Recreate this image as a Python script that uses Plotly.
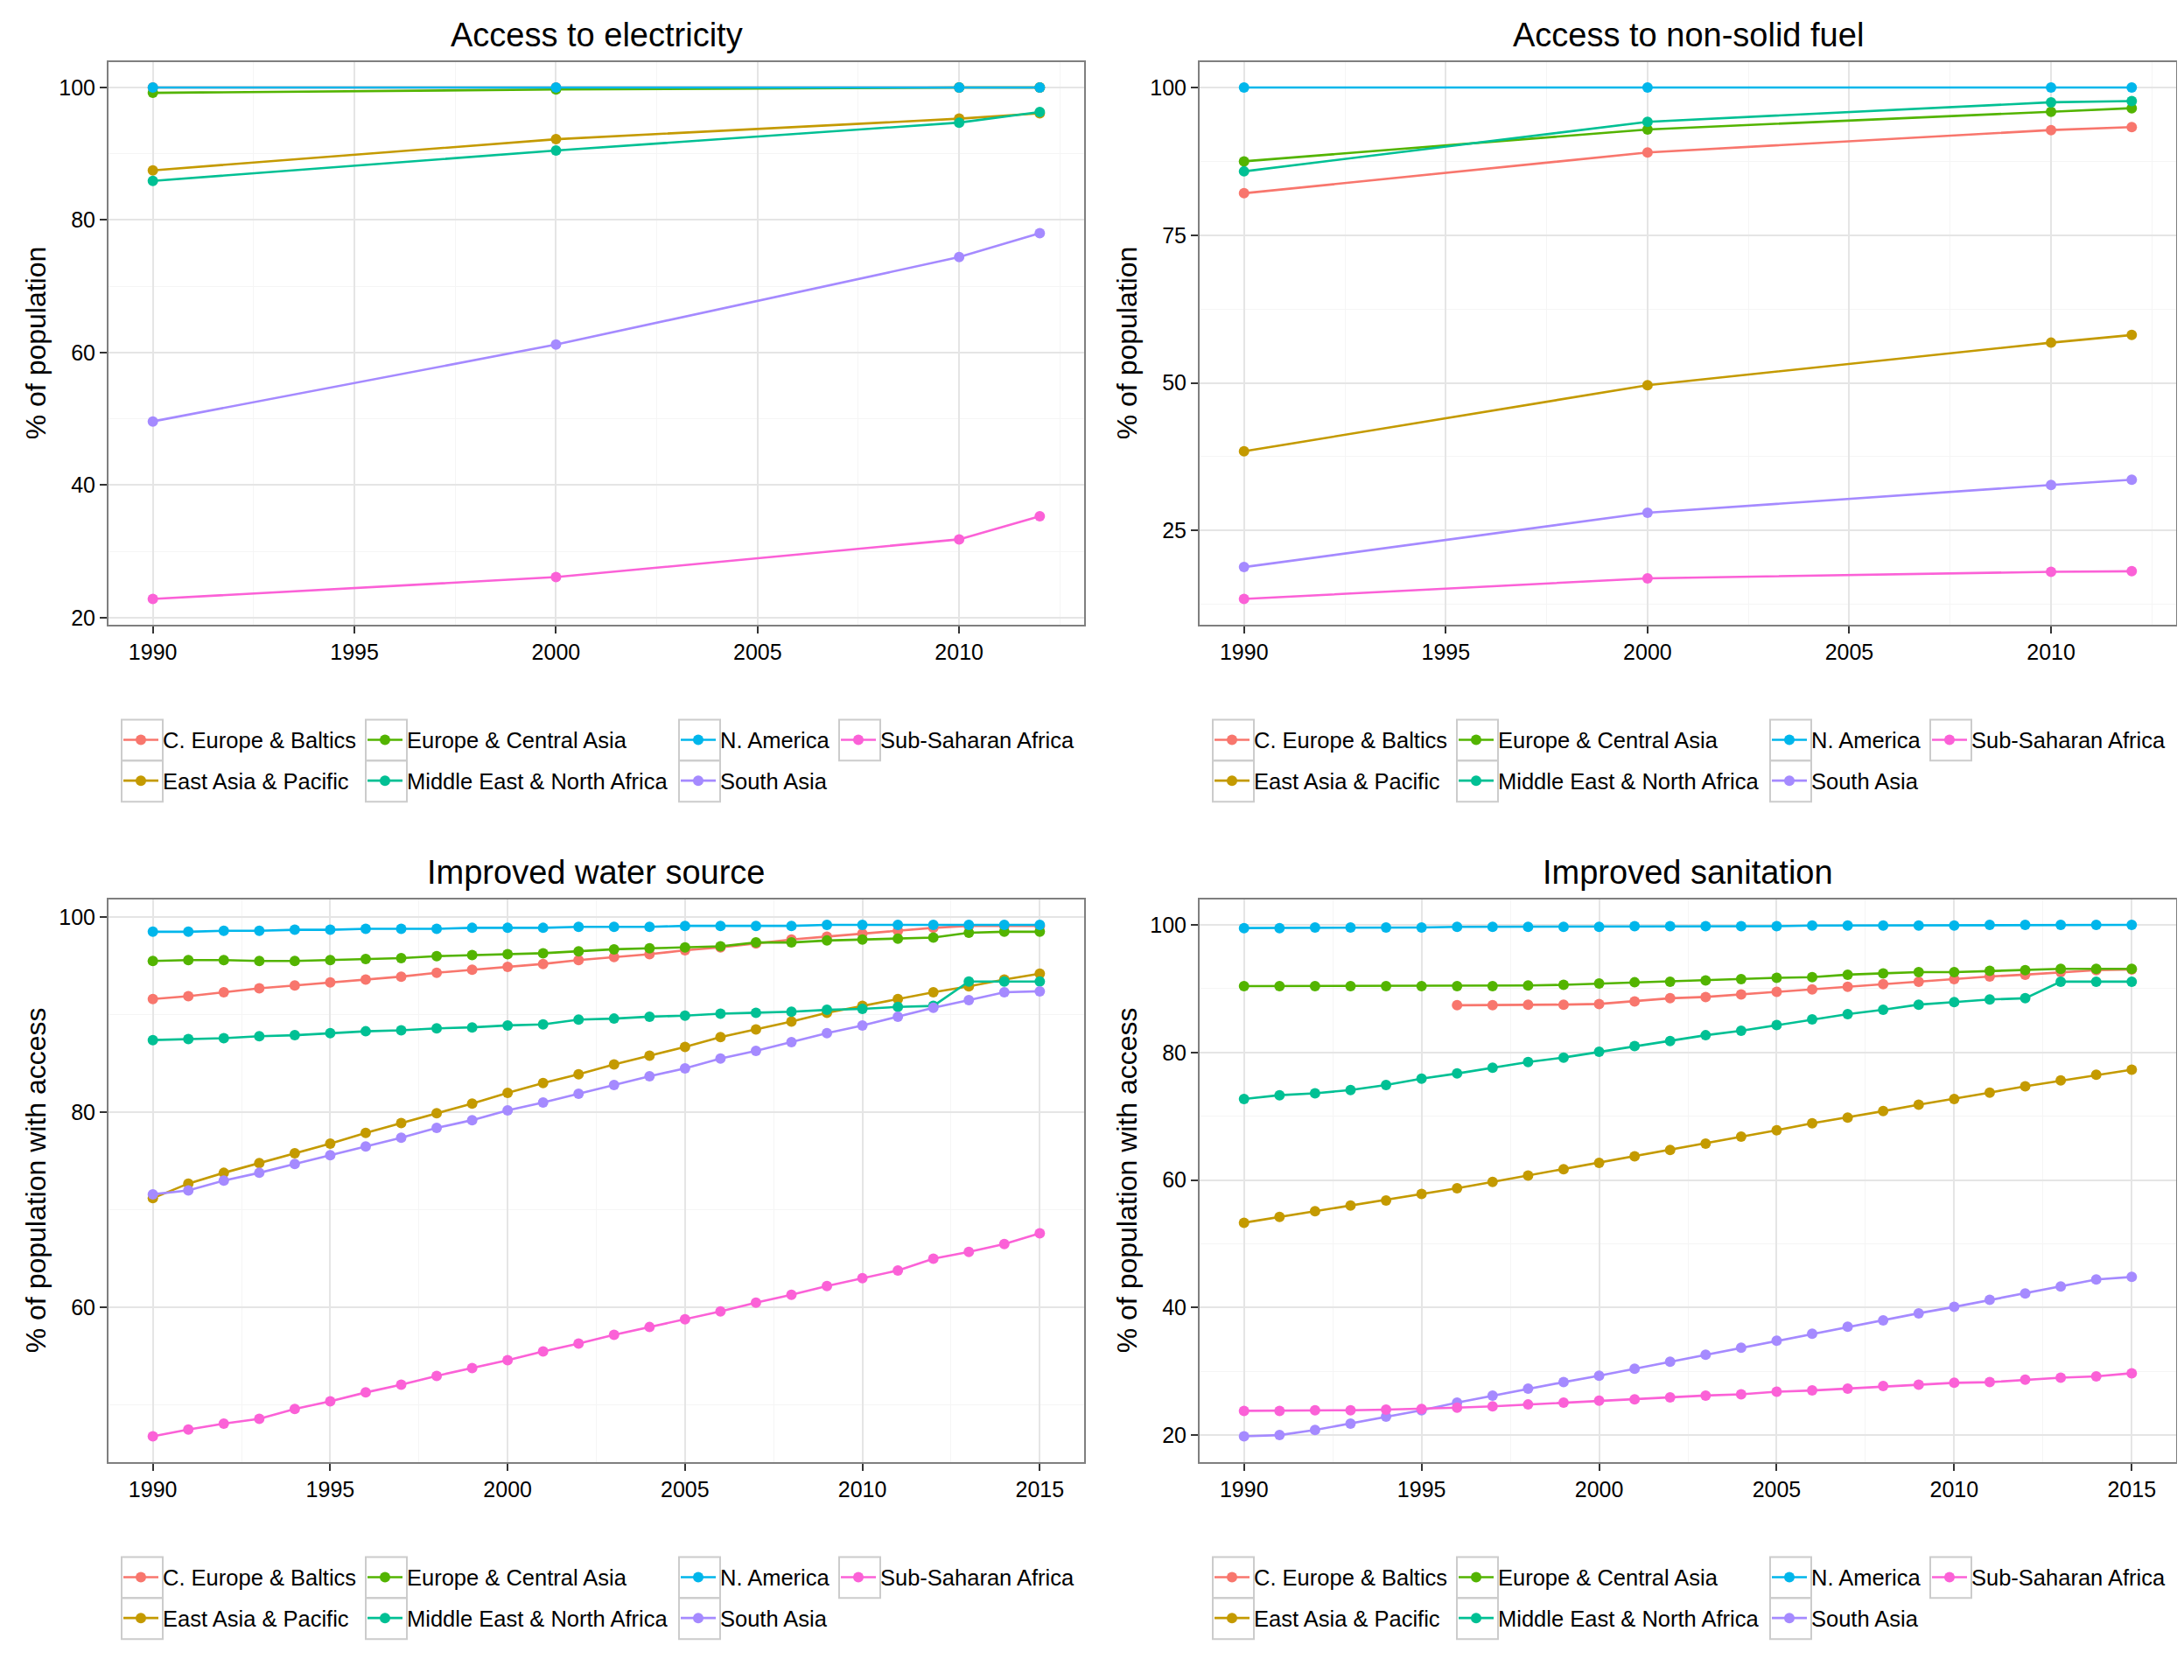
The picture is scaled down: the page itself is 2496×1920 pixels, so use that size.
import plotly.graph_objects as go

W, H = 2496, 1920

regions = ["C. Europe & Baltics", "East Asia & Pacific", "Europe & Central Asia",
           "Middle East & North Africa", "N. America", "South Asia", "Sub-Saharan Africa"]
colors = ["#F8766D", "#C49A00", "#53B400", "#00C094", "#00B6EB", "#A58AFF", "#FB61D7"]

# ---------------- Access to electricity ----------------
elec_years = [1990, 2000, 2010, 2012]
elec_ceb = [100.0, 100.0, 100.0, 100.0]
elec_eap = [87.5, 92.2, 95.3, 96.1]
elec_eca = [99.2, 99.7, 100.0, 100.0]
elec_mena = [85.9, 90.5, 94.7, 96.3]
elec_na = [100.0, 100.0, 100.0, 100.0]
elec_sa = [49.6, 61.2, 74.4, 78.0]
elec_ssa = [22.8, 26.1, 31.8, 35.3]

# ---------------- Access to non-solid fuel ----------------
fuel_years = [1990, 2000, 2010, 2012]
fuel_ceb = [82.1, 89.0, 92.8, 93.3]
fuel_eap = [38.4, 49.6, 56.8, 58.1]
fuel_eca = [87.5, 92.9, 95.9, 96.5]
fuel_mena = [85.8, 94.2, 97.5, 97.7]
fuel_na = [100.0, 100.0, 100.0, 100.0]
fuel_sa = [18.8, 28.0, 32.7, 33.6]
fuel_ssa = [13.4, 16.9, 18.0, 18.1]

# ---------------- Improved water source ----------------
water_years = [1990, 1991, 1992, 1993, 1994, 1995, 1996, 1997, 1998, 1999, 2000, 2001, 2002,
               2003, 2004, 2005, 2006, 2007, 2008, 2009, 2010, 2011, 2012, 2013, 2014, 2015]
water_ceb = [91.6, 91.9, 92.3, 92.7, 93.0, 93.3, 93.6, 93.9, 94.3, 94.6, 94.9, 95.2, 95.6,
             95.9, 96.2, 96.6, 96.9, 97.3, 97.7, 98.0, 98.3, 98.6, 98.9, 99.1, 99.1, 99.1]
water_eap = [71.2, 72.7, 73.8, 74.8, 75.8, 76.8, 77.9, 78.9, 79.9, 80.9, 82.0, 83.0, 83.9,
             84.9, 85.8, 86.7, 87.7, 88.5, 89.3, 90.2, 90.9, 91.6, 92.3, 92.9, 93.6, 94.2]
water_eca = [95.5, 95.6, 95.6, 95.5, 95.5, 95.6, 95.7, 95.8, 96.0, 96.1, 96.2, 96.3, 96.5,
             96.7, 96.8, 96.9, 97.0, 97.4, 97.4, 97.6, 97.7, 97.8, 97.9, 98.4, 98.5, 98.5]
water_mena = [87.4, 87.5, 87.6, 87.8, 87.9, 88.1, 88.3, 88.4, 88.6, 88.7, 88.9, 89.0, 89.5,
              89.6, 89.8, 89.9, 90.1, 90.2, 90.3, 90.5, 90.6, 90.8, 90.9, 93.4, 93.4, 93.4]
water_na = [98.5, 98.5, 98.6, 98.6, 98.7, 98.7, 98.8, 98.8, 98.8, 98.9, 98.9, 98.9, 99.0,
            99.0, 99.0, 99.1, 99.1, 99.1, 99.1, 99.2, 99.2, 99.2, 99.2, 99.2, 99.2, 99.2]
water_sa = [71.6, 72.0, 73.0, 73.8, 74.7, 75.6, 76.5, 77.4, 78.4, 79.2, 80.2, 81.0, 81.9,
            82.8, 83.7, 84.5, 85.5, 86.3, 87.2, 88.1, 88.9, 89.8, 90.7, 91.5, 92.3, 92.4]
water_ssa = [46.8, 47.5, 48.1, 48.6, 49.6, 50.4, 51.3, 52.1, 53.0, 53.8, 54.6, 55.5, 56.3,
             57.2, 58.0, 58.8, 59.6, 60.5, 61.3, 62.2, 63.0, 63.8, 65.0, 65.7, 66.5, 67.6]

# ---------------- Improved sanitation ----------------
san_years = water_years
san_ceb = [None, None, None, None, None, None, 87.4, 87.4, 87.5, 87.5, 87.6, 88.0, 88.5,
           88.7, 89.1, 89.5, 89.9, 90.3, 90.7, 91.1, 91.5, 91.9, 92.2, 92.6, 92.9, 93.0]
san_eap = [53.3, 54.2, 55.1, 56.0, 56.8, 57.8, 58.7, 59.7, 60.7, 61.7, 62.7, 63.7, 64.7,
           65.7, 66.8, 67.8, 68.9, 69.8, 70.8, 71.8, 72.7, 73.7, 74.7, 75.6, 76.5, 77.3]
san_eca = [90.4, 90.4, 90.4, 90.4, 90.4, 90.4, 90.4, 90.4, 90.5, 90.6, 90.8, 91.0, 91.1,
           91.3, 91.5, 91.7, 91.8, 92.2, 92.4, 92.6, 92.6, 92.8, 92.9, 93.1, 93.1, 93.1]
san_mena = [72.7, 73.3, 73.6, 74.1, 74.9, 75.9, 76.7, 77.6, 78.5, 79.2, 80.1, 81.0, 81.8,
            82.7, 83.4, 84.3, 85.2, 86.0, 86.7, 87.5, 87.9, 88.3, 88.5, 91.1, 91.1, 91.1]
san_na = [99.5, 99.5, 99.6, 99.6, 99.6, 99.6, 99.7, 99.7, 99.7, 99.7, 99.7, 99.8, 99.8,
          99.8, 99.8, 99.8, 99.9, 99.9, 99.9, 99.9, 99.9, 100.0, 100.0, 100.0, 100.0, 100.0]
san_sa = [19.8, 20.0, 20.8, 21.8, 22.9, 23.9, 25.1, 26.2, 27.3, 28.3, 29.3, 30.4, 31.5,
          32.6, 33.7, 34.8, 35.9, 37.0, 38.0, 39.1, 40.1, 41.2, 42.2, 43.3, 44.4, 44.8]
san_ssa = [23.8, 23.8, 23.9, 23.9, 24.0, 24.1, 24.3, 24.5, 24.8, 25.1, 25.4, 25.6, 25.9,
           26.2, 26.4, 26.8, 27.0, 27.3, 27.7, 27.9, 28.2, 28.3, 28.7, 29.0, 29.2, 29.7]

panel_titles = ["Access to electricity", "Access to non-solid fuel",
                "Improved water source", "Improved sanitation"]
panel_ytitles = ["% of population", "% of population",
                 "% of population with access", "% of population with access"]
panel_years = [elec_years, fuel_years, water_years, san_years]
panel_series = [
    [elec_ceb, elec_eap, elec_eca, elec_mena, elec_na, elec_sa, elec_ssa],
    [fuel_ceb, fuel_eap, fuel_eca, fuel_mena, fuel_na, fuel_sa, fuel_ssa],
    [water_ceb, water_eap, water_eca, water_mena, water_na, water_sa, water_ssa],
    [san_ceb, san_eap, san_eca, san_mena, san_na, san_sa, san_ssa],
]
panel_ydtick = [20, 25, 20, 20]
panel_xtick = [5, 5, 5, 5]

# layout geometry (pixels)
plot_left = [116, 1363, 116, 1363]
plot_right = [1231, 2479, 1231, 2479]
plot_top = [63, 63, 1023, 1023]
plot_bottom = [708, 708, 1668, 1668]

FONT = "Liberation Sans, Arial, sans-serif"

# legend layout: column-major like ggplot (2 rows)
legend_cols = [[0, 1], [2, 3], [4, 5], [6]]
legend_col_offsets = [15, 294, 652, 835]   # key box left relative to plot left
key_w = 47
key_h = 47
legend_key_top_offset = 109  # key box top relative to plot bottom

fig = go.Figure()
shapes = []
annotations = []
layout_updates = {}

def px_x(p):
    return p / W

def px_y(p):
    return 1 - p / H

legend_counter = 0
for p in range(4):
    ax_suffix = "" if p == 0 else str(p + 1)
    xa = "x" + ax_suffix
    ya = "y" + ax_suffix
    years = panel_years[p]
    col_legend_names = []
    for c in range(len(legend_cols)):
        legend_counter += 1
        lname = "legend" if legend_counter == 1 else "legend%d" % legend_counter
        col_legend_names.append(lname)
    for i, reg in enumerate(regions):
        col = [c for c, members in enumerate(legend_cols) if i in members][0]
        row = legend_cols[col].index(i)
        fig.add_trace(go.Scatter(
            x=years, y=panel_series[p][i], name=reg, mode="lines+markers",
            line=dict(color=colors[i], width=2.6),
            marker=dict(color=colors[i], size=12),
            xaxis=xa, yaxis=ya,
            legend=col_legend_names[col], legendrank=row + 1,
            legendgroup="p%d_%d" % (p, i),
            connectgaps=False,
        ))
    allx = [v for v in years]
    ally = [v for s in panel_series[p] for v in s if v is not None]
    xr = max(allx) - min(allx)
    yr = max(ally) - min(ally)
    xrange = [min(allx) - 0.05 * xr, max(allx) + 0.05 * xr]
    yrange = [min(ally) - 0.05 * yr, max(ally) + 0.05 * yr]

    xdom = [px_x(plot_left[p]), px_x(plot_right[p])]
    ydom = [px_y(plot_bottom[p]), px_y(plot_top[p])]
    common = dict(showline=True, linecolor="#7F7F7F", linewidth=2, mirror=True,
                  ticks="outside", ticklen=8, tickwidth=2, tickcolor="#333333",
                  showgrid=True, gridcolor="#E5E5E5", gridwidth=2, zeroline=False,
                  tickfont=dict(family=FONT, size=25, color="black"))
    layout_updates["xaxis" + ax_suffix] = dict(
        domain=xdom, range=xrange, anchor=ya, tick0=1990, dtick=panel_xtick[p],
        minor=dict(dtick=panel_xtick[p] / 2, showgrid=True, gridcolor="#F5F5F5",
                   gridwidth=1, ticks=""),
        **common)
    layout_updates["yaxis" + ax_suffix] = dict(
        domain=ydom, range=yrange, anchor=xa, tick0=0, dtick=panel_ydtick[p],
        minor=dict(dtick=panel_ydtick[p] / 2, showgrid=True, gridcolor="#F5F5F5",
                   gridwidth=1, ticks=""),
        **common)

    annotations.append(dict(
        text=panel_titles[p], x=(xdom[0] + xdom[1]) / 2, y=px_y(plot_top[p] - 31),
        xref="paper", yref="paper", xanchor="center", yanchor="middle",
        showarrow=False, font=dict(family=FONT, size=38, color="black")))
    annotations.append(dict(
        text=panel_ytitles[p], x=px_x(plot_left[p] - 83), y=(ydom[0] + ydom[1]) / 2,
        xref="paper", yref="paper", xanchor="center", yanchor="middle", textangle=-90,
        showarrow=False, font=dict(family=FONT, size=32, color="black")))

    key_top = plot_bottom[p] + legend_key_top_offset
    for c, members in enumerate(legend_cols):
        kx = plot_left[p] + legend_col_offsets[c]
        layout_updates[col_legend_names[c]] = dict(
            x=px_x(kx - 3), y=px_y(key_top), xanchor="left", yanchor="top",
            xref="paper", yref="paper", orientation="v",
            bgcolor="rgba(0,0,0,0)", borderwidth=0, tracegroupgap=10.5,
            itemwidth=40,
            font=dict(family=FONT, size=25.5, color="black"))
        for r in range(len(members)):
            shapes.append(dict(
                type="rect", xref="paper", yref="paper",
                x0=px_x(kx), x1=px_x(kx + key_w),
                y0=px_y(key_top + r * key_h), y1=px_y(key_top + (r + 1) * key_h),
                line=dict(color="#CCCCCC", width=2), fillcolor="rgba(0,0,0,0)",
                layer="below"))

fig.update_layout(
    width=W, height=H, margin=dict(l=0, r=0, t=0, b=0),
    paper_bgcolor="white", plot_bgcolor="white",
    font=dict(family=FONT, color="black"),
    showlegend=True, shapes=shapes, annotations=annotations,
    **layout_updates)

fig.write_html("out.html")
